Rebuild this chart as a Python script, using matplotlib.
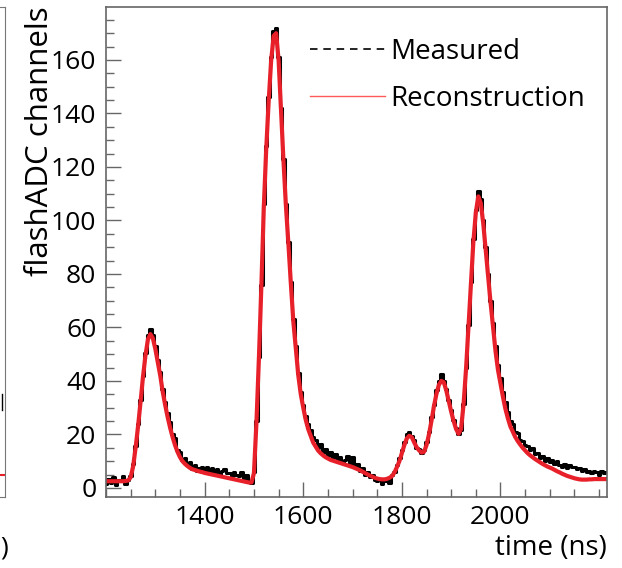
import matplotlib.pyplot as plt
import numpy as np
from matplotlib.lines import Line2D
from matplotlib.ticker import MultipleLocator

plt.rcParams['font.family'] = ['Open Sans', 'DejaVu Sans']

# sample times (ns), 5 ns bins
t_start, t_step, t_stop = 1200, 5, 2220
times = np.arange(t_start, t_stop, t_step)

# reconstructed pulse (flashADC channels)
reconstruction = [
    2.5, 2.5, 2.5, 2.5, 2.5, 2.5, 2.5, 2.5, 2.6, 2.8,
    4, 8, 15, 23, 32, 41.5, 49.5, 55.5, 57.5, 56,
    52, 47, 42, 36, 31, 26.5, 22.5, 19, 16, 13.5,
    11.5, 10, 9, 8.2, 7.5, 7, 6.7, 6.4, 6.1, 5.9,
    5.6, 5.4, 5.2, 5, 4.8, 4.6, 4.4, 4.2, 4.0, 3.8,
    3.6, 3.4, 3.2, 3.0, 2.8, 2.6, 2.4, 2.2, 2.0, 2.0,
    5.5, 24, 48, 75, 105, 127, 145, 160, 169, 170,
    160, 141, 122, 105, 91, 76, 62, 52, 42, 35,
    30, 25.5, 22, 19.5, 17, 15.5, 14, 13, 12.2, 11.5,
    11, 10.5, 10.2, 9.9, 9.6, 9.3, 9, 8.7, 8.4, 8.1,
    7.8, 7.4, 7, 6.6, 6.1, 5.6, 5.1, 4.6, 4.2, 3.8,
    3.5, 3.3, 3.2, 3.2, 3.4, 3.8, 4.4, 5.8, 7.8, 10,
    13, 16, 18.5, 19.5, 19, 17, 15.2, 14, 13.2, 13.5,
    16, 20, 25, 30.5, 35, 38.5, 40, 39.5, 36.5, 32.5,
    28.5, 25, 22, 20.2, 22, 31, 44, 60, 76, 92,
    103, 109, 106.5, 99, 89, 79, 69, 60, 51, 44,
    39, 34, 29.5, 26, 23, 21, 19, 17.5, 16.2, 15,
    14, 13, 12.2, 11.5, 10.8, 10.2, 9.6, 9, 8.5, 8,
    7.6, 7.2, 6.7, 6.2, 5.8, 5.3, 4.9, 4.5, 4.2, 3.9,
    3.6, 3.4, 3.2, 3.1, 3.1, 3.1, 3.2, 3.2, 3.3, 3.3,
    3.3, 3.3, 3.3, 3.3,
]

# measured waveform (flashADC channels)
measured = [
    1.5, 3.5, 2.0, 4.0, 1.0, 3.0, 2.5, 4.5, 1.5, 3.0,
    4.5, 9, 15.5, 24, 33, 42, 50.5, 57, 59.5, 57,
    53, 48, 43.5, 37, 32, 28, 24.5, 20, 18.5, 14,
    13.5, 10.5, 11, 8.5, 9.5, 7, 8.5, 6.5, 7.5, 8,
    6.5, 8, 5.5, 7.5, 6, 7, 5, 6.5, 7, 5.5,
    5.5, 4.5, 6, 5, 4.5, 6, 3.5, 5, 2.5, 2,
    6, 25, 49, 76, 106, 128, 146, 161, 171, 172,
    161, 142, 123, 106, 92, 77, 63, 53, 43, 36,
    31, 27, 24, 21.5, 19, 18, 15, 16.5, 13, 14.5,
    12, 13.5, 11, 12.5, 10, 11.5, 9.5, 10.5, 12, 9,
    11.5, 8, 9, 6.5, 7.5, 5, 6, 4, 5, 3,
    2.5, 3.5, 1.5, 2.5, 3, 2, 5, 6, 8.5, 11,
    14, 17, 20, 21, 19.5, 18, 15, 14.5, 13, 14,
    17, 21, 26.5, 31, 36.5, 40, 42.5, 40, 37, 33,
    29, 25.5, 22.5, 20, 21.5, 31.5, 45, 61, 77, 93,
    104, 111, 108, 100, 90, 80, 70, 61.5, 53, 46,
    41, 36, 32, 28.5, 25, 24, 21, 20.5, 18, 17.5,
    16, 15.5, 14, 15, 12.5, 13, 11, 12, 10, 11,
    9.5, 10.5, 9, 10, 8.5, 8, 9, 7.5, 8.5, 8,
    8, 7, 7.5, 6.5, 7, 6, 6.5, 5.5, 6.5, 6,
    5, 6.5, 5.5, 6,
]

# visible tail of the neighbouring panel's curves
neighbour_x = [0.93, 1.0]
neighbour_red = [5.0, 5.0]
neighbour_black_x = [0.975, 0.975]
neighbour_black = [29, 35]

y_ticks = [0, 20, 40, 60, 80, 100, 120, 140, 160]
x_ticks = [1400, 1600, 1800, 2000]

fig = plt.figure(figsize=(6.22, 5.68), dpi=100)
W, H = 622, 568

# edge of the neighbouring panel (cut off on the left)
axl = fig.add_axes([-100 / W, 1 - 497 / H, 105 / W, 490 / H])
axl.plot(neighbour_x, neighbour_red, color='#e8202a', lw=1.5)
axl.plot(neighbour_black_x, neighbour_black, color='black', lw=1.0)
axl.set_xlim(0, 1)
axl.set_ylim(-3.4, 179.8)
axl.set_xticks([])
axl.set_yticks([])
for s in axl.spines.values():
    s.set_color('#777777')
fig.text(8 / W, 1 - 548 / H, ')', fontsize=19, ha='right', va='center')

ax = fig.add_axes([106 / W, 1 - 497 / H, 501 / W, 490 / H])
ax.step(times, measured, where='mid', color='black', lw=2.2)
ax.plot(times, reconstruction, color='#e8202a', lw=3.0)

ax.set_xlim(1200, 2216)
ax.set_ylim(-3.4, 179.8)
ax.set_xticks(x_ticks)
ax.set_yticks(y_ticks)
ax.xaxis.set_minor_locator(MultipleLocator(50))
ax.yaxis.set_minor_locator(MultipleLocator(5))
ax.tick_params(which='both', direction='in', top=False, right=False,
               color='#666666', labelsize=19, width=1)
ax.tick_params(which='major', length=11)
ax.tick_params(which='minor', length=5.5)
ax.tick_params(axis='y', pad=7)
ax.tick_params(axis='x', pad=6)
for s in ax.spines.values():
    s.set_color('#666666')
    s.set_linewidth(1.2)

ax.set_ylabel('flashADC channels', fontsize=22.5, va='center')
ax.yaxis.set_label_coords((40 - 106) / 501, (497 - 141) / 490)
ax.set_xlabel('time (ns)', fontsize=20, ha='right', va='center')
ax.xaxis.set_label_coords(1.0, (497 - 548) / 490)

handles = [Line2D([], [], color='black', lw=1.2, ls=(0, (4.5, 3.5))),
           Line2D([], [], color='#ff5a5a', lw=1.0)]
ax.legend(handles, ['Measured', 'Reconstruction'], loc='upper left',
          bbox_to_anchor=((310 - 106) / 501, 1 - (38 - 7) / 490),
          frameon=False, fontsize=20, borderpad=0, borderaxespad=0,
          handlelength=2.7, handletextpad=0.2, labelspacing=0.67)

fig.savefig('out.png', dpi=100)
